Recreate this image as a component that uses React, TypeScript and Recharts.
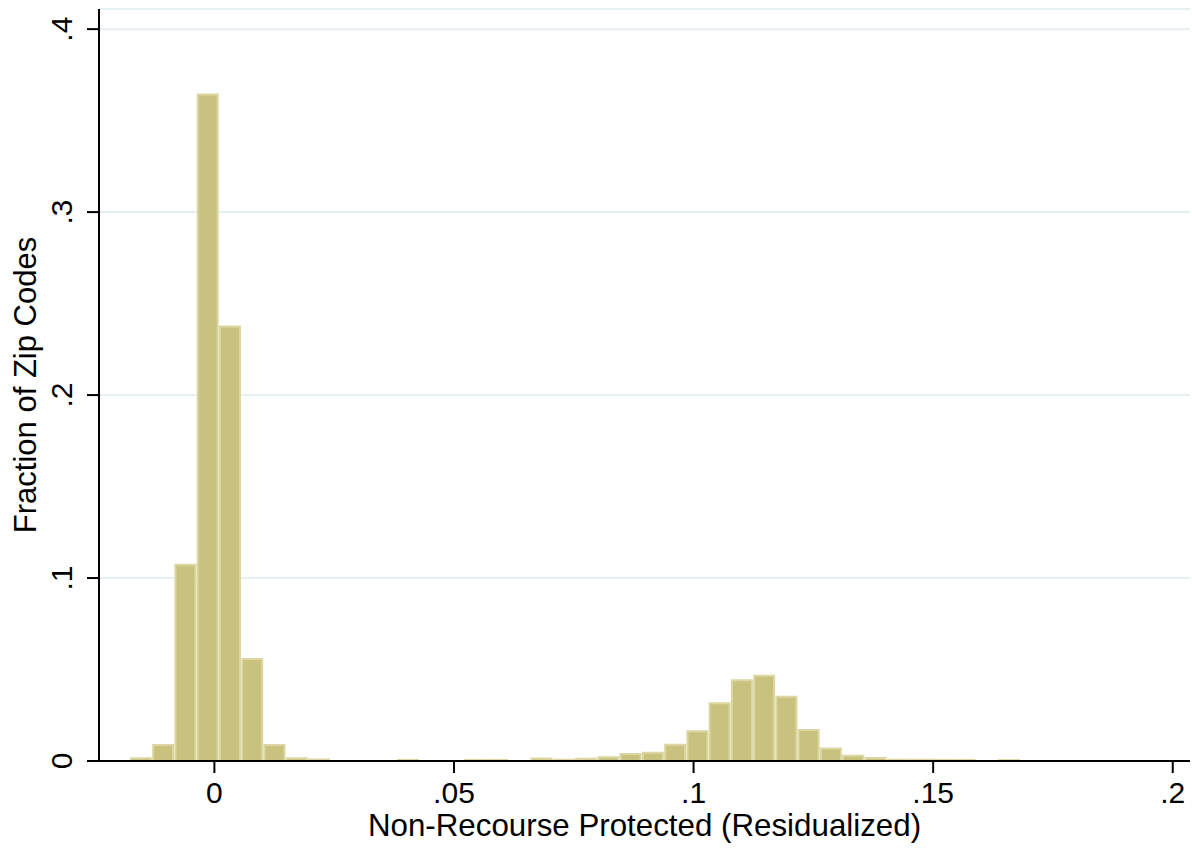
import { Bar, BarChart, CartesianGrid, XAxis, YAxis, Label } from "recharts";

// histogram bin centres (Non-Recourse Protected, residualized)
const binCenters = [
  -0.01531, -0.01067, -0.00602, -0.00138, 0.00327, 0.00792, 0.01256, 0.01721, 0.02185, 0.0265,
  0.03114, 0.03579, 0.04043, 0.04508, 0.04972, 0.05437, 0.05901, 0.06366, 0.0683, 0.07295,
  0.07759, 0.08224, 0.08688, 0.09153, 0.09617, 0.10082, 0.10546, 0.11011, 0.11475, 0.1194,
  0.12404, 0.12869, 0.13333, 0.13798, 0.14262, 0.14727, 0.15191, 0.15656, 0.1612, 0.16585,
];

// fraction of zip codes in each bin
const fractions = [
  0.0015, 0.0087, 0.1073, 0.3643, 0.2375, 0.0557, 0.0087, 0.0015, 0.0008, 0,
  0, 0, 0.0006, 0, 0, 0.0006, 0.0006, 0, 0.0013, 0.0007,
  0.0012, 0.002, 0.0038, 0.0045, 0.0089, 0.0162, 0.0315, 0.0442, 0.0466, 0.0351,
  0.0169, 0.0069, 0.0029, 0.0016, 0.0007, 0.0007, 0.0006, 0.0006, 0, 0.0005,
];

const xTicks = [0, 0.05, 0.1, 0.15, 0.2];
const yTicks = [0, 0.1, 0.2, 0.3, 0.4];

const data = binCenters.map((x, i) => ({ x, fraction: fractions[i] }));

const FONT = '"Liberation Sans", Arial, Helvetica, sans-serif';

// Stata style: drop the leading zero
function fmt(v: number): string {
  if (v === 0) return "0";
  return String(v).replace(/^0\./, ".");
}

function XTick(props: any) {
  const { x, y, payload } = props;
  return (
    <text x={x} y={y + 30} textAnchor="middle" fontSize={30} fontFamily={FONT} fill="#000">
      {fmt(payload.value)}
    </text>
  );
}

function YTick(props: any) {
  const { x, y, payload } = props;
  const bx = x - 15;
  return (
    <text
      x={bx}
      y={y}
      transform={`rotate(-90, ${bx}, ${y})`}
      textAnchor="middle"
      fontSize={30}
      fontFamily={FONT}
      fill="#000"
    >
      {fmt(payload.value)}
    </text>
  );
}

export default function App() {
  return (
    <div style={{ position: "absolute", left: 0, top: 0, background: "white" }}>
      <BarChart
        width={1192}
        height={849}
        data={data}
        margin={{ top: 9, right: 2, left: 0, bottom: 0 }}
        barCategoryGap={0}
        barGap={0}
      >
        <CartesianGrid vertical={false} stroke="#E6EFF1" strokeWidth={2} />
        <XAxis
          dataKey="x"
          type="number"
          domain={[-0.02408, 0.2036]}
          allowDataOverflow
          ticks={xTicks}
          interval={0}
          height={88}
          tickSize={12}
          tickMargin={0}
          axisLine={{ stroke: "#000", strokeWidth: 2 }}
          tickLine={{ stroke: "#000", strokeWidth: 2 }}
          tick={<XTick />}
        >
          <Label
            content={(p: any) => {
              const vb = p.viewBox;
              return (
                <text
                  x={vb.x + vb.width / 2}
                  y={836}
                  textAnchor="middle"
                  fontSize={31.3}
                  fontFamily={FONT}
                  fill="#000"
                >
                  Non-Recourse Protected (Residualized)
                </text>
              );
            }}
          />
        </XAxis>
        <YAxis
          type="number"
          domain={[0, 0.411]}
          allowDataOverflow
          ticks={yTicks}
          interval={0}
          width={99}
          tickSize={12}
          tickMargin={0}
          axisLine={{ stroke: "#000", strokeWidth: 2 }}
          tickLine={{ stroke: "#000", strokeWidth: 2 }}
          tick={<YTick />}
        >
          <Label
            content={(p: any) => {
              const vb = p.viewBox;
              const cy = vb.y + vb.height / 2;
              return (
                <text
                  x={36}
                  y={cy}
                  transform={`rotate(-90, 36, ${cy})`}
                  textAnchor="middle"
                  fontSize={31}
                  fontFamily={FONT}
                  fill="#000"
                >
                  Fraction of Zip Codes
                </text>
              );
            }}
          />
        </YAxis>
        <Bar
          dataKey="fraction"
          fill="#C8C27E"
          stroke="#DCD7A2"
          strokeWidth={2}
          barSize={22.3}
          isAnimationActive={false}
        />
      </BarChart>
    </div>
  );
}
